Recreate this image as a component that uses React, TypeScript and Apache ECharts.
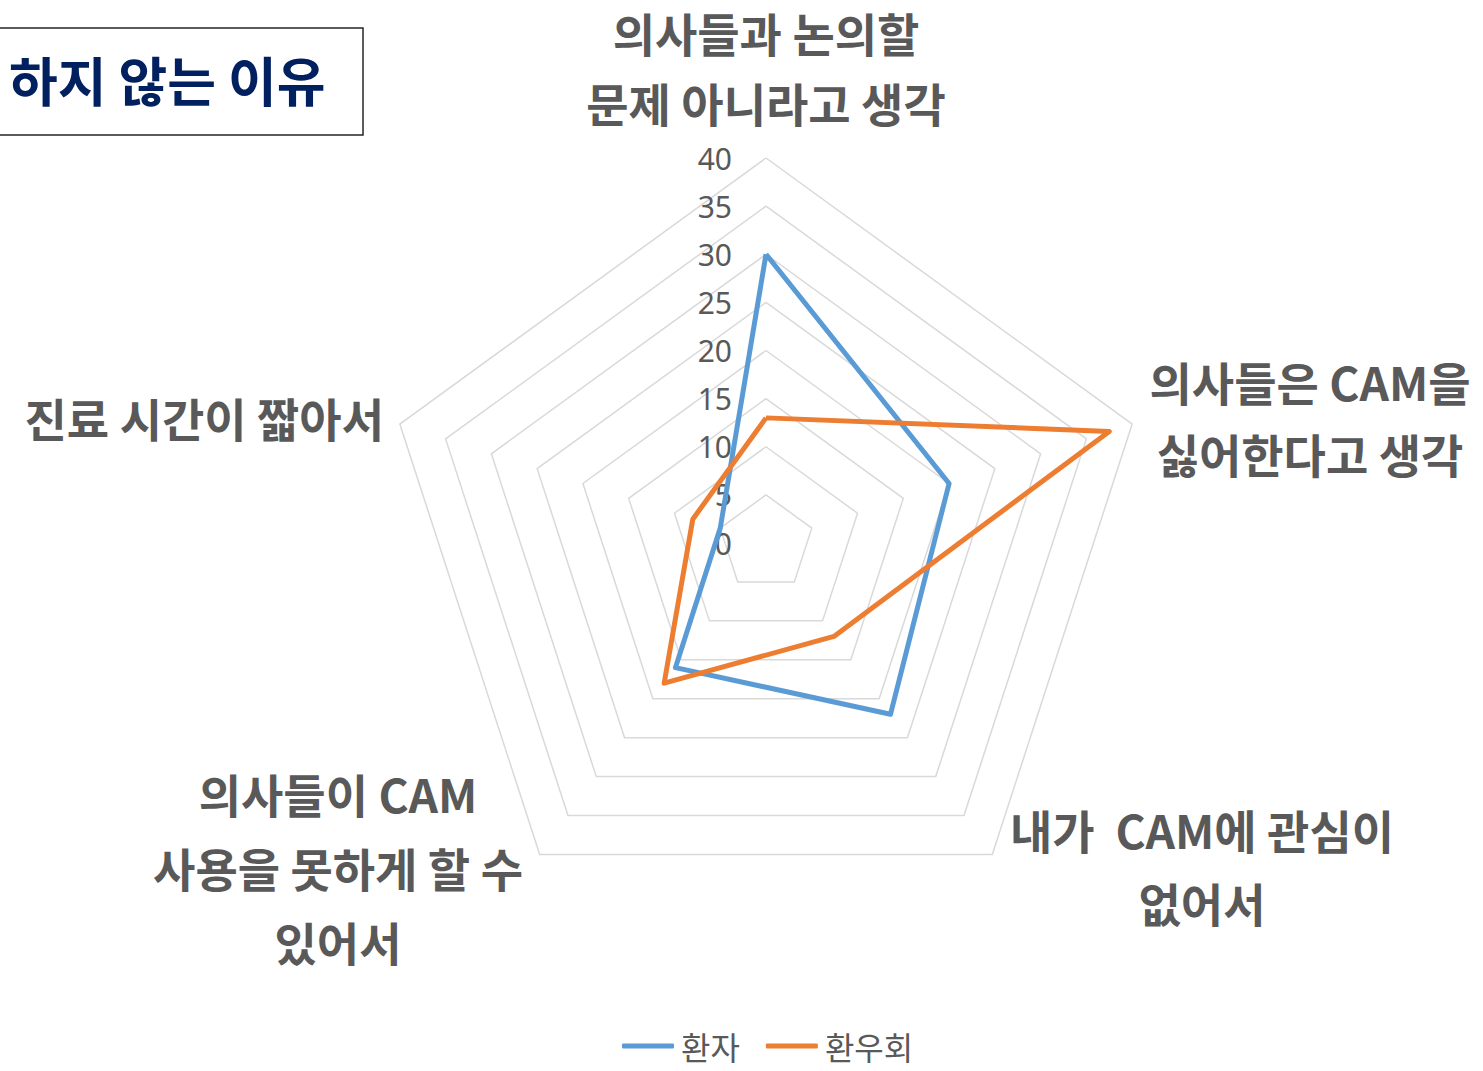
import React, { useEffect, useRef } from 'react';
import * as echarts from 'echarts';

// Indicators listed counter-clockwise from the top (ECharts radar order)
const indicatorNames = [
  '의사들과 논의할\n문제 아니라고 생각',
  '진료 시간이 짧아서',
  '의사들이 CAM\n사용을 못하게 할 수\n있어서',
  '내가  CAM에 관심이\n없어서',
  '의사들은 CAM을\n싫어한다고 생각',
];
const seriesNames = ['환자', '환우회'];
const seriesColors = ['#5b9bd5', '#ed7d31'];
const patientValues = [30, 5, 16, 22, 20];
const groupValues = [13, 8, 18, 12, 37.5];
const axisMax = 40;
const axisStep = 5;
const titleText = '하지 않는 이유';

const FONT = '"Noto Sans CJK KR", "Noto Sans", sans-serif';
const GRAY = '#595959';

// label anchor positions (x, first-line middle y, line step) for each indicator name
const labelLayout = [
  { x: 766, y: 32, align: 'center', lh: 70 },
  { x: 384, y: 417, align: 'right', lh: 72 },
  { x: 338, y: 793, align: 'center', lh: 74 },
  { x: 1202, y: 829, align: 'center', lh: 73 },
  { x: 1310, y: 381, align: 'center', lh: 72 },
];

export default function App() {
  const ref = useRef<HTMLDivElement>(null);
  useEffect(() => {
    document.body.style.margin = '0';
    const chart = echarts.init(ref.current!, null, { renderer: 'svg' });
    const indicators = indicatorNames.map((n, i) => ({
      name: n,
      min: 0,
      max: axisMax,
      ...(i === 0
        ? {
            axisLabel: {
              show: true,
              fontSize: 30,
              color: GRAY,
              fontFamily: '"Noto Sans", sans-serif',
              margin: 34,
            },
          }
        : {}),
    }));
    const labelTexts: any[] = [];
    indicatorNames.forEach((n, i) => {
      const L = labelLayout[i];
      n.split('\n').forEach((line, k) => {
        labelTexts.push({
          type: 'text',
          x: L.x,
          y: L.y + k * L.lh,
          style: {
            text: line,
            fill: GRAY,
            fontSize: 46,
            fontWeight: 'bold',
            fontFamily: FONT,
            align: L.align,
            verticalAlign: 'middle',
          },
        });
      });
    });
    const option: any = {
      animation: false,
      backgroundColor: '#ffffff',
      radar: {
        center: [766, 543],
        radius: 385,
        startAngle: 90,
        shape: 'polygon',
        splitNumber: axisMax / axisStep,
        indicator: indicators,
        axisName: { show: false },
        axisLine: { show: false },
        axisTick: { show: false },
        axisLabel: { show: false },
        splitLine: { lineStyle: { color: '#d9d9d9', width: 1.5 } },
        splitArea: { show: false },
      },
      legend: {
        data: seriesNames.map((n) => ({ name: n, icon: 'roundRect' })),
        left: 617,
        top: 1025,
        itemWidth: 52,
        itemHeight: 5,
        itemGap: 26,
        textStyle: {
          fontSize: 32,
          color: GRAY,
          fontFamily: FONT,
          padding: [0, 0, 0, 2],
        },
      },
      series: [
        {
          type: 'radar',
          symbol: 'none',
          data: [
            {
              name: seriesNames[0],
              value: patientValues,
              lineStyle: { color: seriesColors[0], width: 5 },
              itemStyle: { color: seriesColors[0] },
            },
            {
              name: seriesNames[1],
              value: groupValues,
              lineStyle: { color: seriesColors[1], width: 5 },
              itemStyle: { color: seriesColors[1] },
            },
          ],
        },
      ],
      graphic: [
        ...labelTexts,
        {
          type: 'rect',
          shape: { x: -20, y: 28, width: 383, height: 107 },
          style: { fill: '#ffffff', stroke: '#262626', lineWidth: 1.5 },
          z: 10,
        },
        {
          type: 'text',
          x: 9,
          y: 79,
          z: 11,
          style: {
            text: titleText,
            fill: '#002060',
            fontSize: 53,
            fontWeight: 'bold',
            fontFamily: FONT,
            align: 'left',
            verticalAlign: 'middle',
          },
        },
      ],
    };
    chart.setOption(option);
    return () => chart.dispose();
  }, []);
  return <div ref={ref} style={{ width: 1483, height: 1071 }} />;
}
